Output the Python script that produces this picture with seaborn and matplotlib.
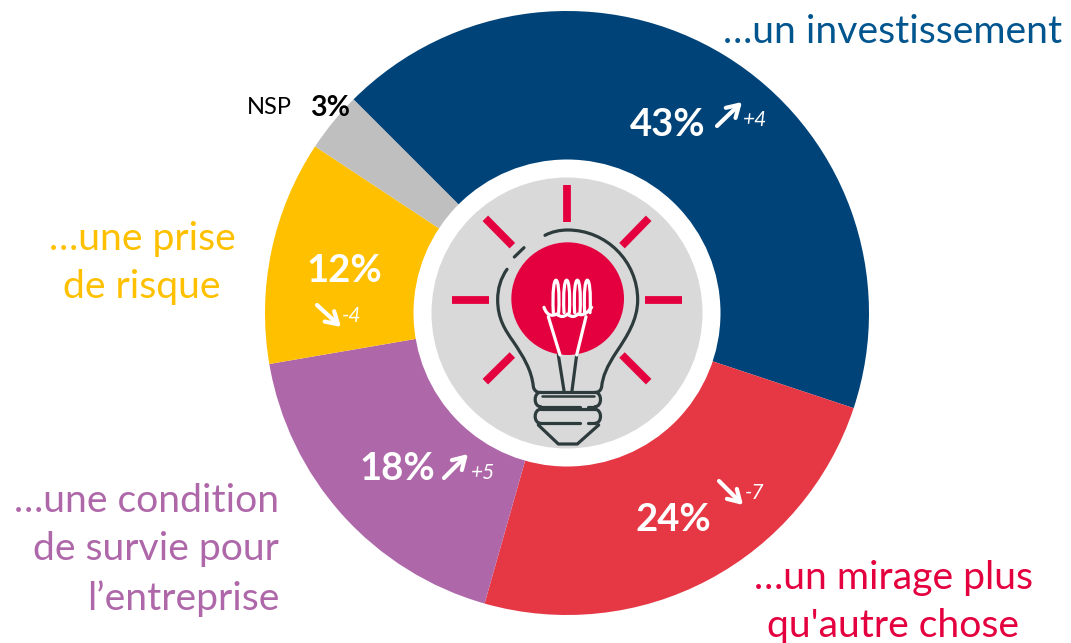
import matplotlib
matplotlib.use("Agg")
import matplotlib.pyplot as plt
import seaborn as sns
from matplotlib.patches import Circle, PathPatch
from matplotlib.path import Path

segments = ["…un investissement", "…un mirage plus\nqu'autre chose", "…une condition\nde survie pour\nl’entreprise", "…une prise\nde risque", "NSP"]
values = [43, 24, 18, 12, 3]
slice_shares = [42.6, 24.3, 17.9, 12.0, 3.2]
deltas = ["+4", "-7", "+5", "-4", ""]
slice_colors = ["#004379", "#E53744", "#AE68A9", "#FFC000", "#BFBFBF"]
text_colors = ["#00558F", "#E4003F", "#AE68A9", "#FFC000", "#000000"]

sns.set_theme(style="white")
plt.rcParams["font.family"] = ["Lato", "DejaVu Sans"]

W, H = 1071, 643
fig = plt.figure(figsize=(W / 100, H / 100), dpi=100)
ax = fig.add_axes([0, 0, 1, 1])

Y = lambda y: H - y
CX, CY, R = 567, 313, 302

ax.pie(slice_shares, colors=slice_colors, startangle=90 + 45, counterclock=False,
       center=(CX, Y(CY)), radius=R, frame=True, wedgeprops=dict(linewidth=0))
ax.set_xlim(0, W)
ax.set_ylim(0, H)
ax.set_aspect("equal")
ax.axis("off")

ax.add_patch(Circle((CX, Y(CY)), 153.5, fc="white", ec="none", zorder=3))
ax.add_patch(Circle((CX, Y(CY)), 135.5, fc="#D9D9D9", ec="none", zorder=4))


def Z(zx, zy):
    return (410 + zx / 3, Y(160 + zy / 3))


PINK = "#E4003F"
DARK = "#2E3B3D"
rays = [((471, 76), (471, 187)), ((127, 420), (237, 420)), ((706, 420), (816, 420)),
        ((226, 175), (307, 257)), ((716, 175), (636, 257)),
        ((226, 665), (307, 585)), ((716, 665), (636, 585))]
for a, b in rays:
    (x0, y0), (x1, y1) = Z(*a), Z(*b)
    ax.plot([x0, x1], [y0, y1], color=PINK, lw=5.6, solid_capstyle="butt", zorder=5)

ax.add_patch(Circle(Z(473, 416), 169 / 3, fc=PINK, ec="none", zorder=5))


def curve(points, color=DARK, lw=2.3):
    verts = [Z(*p) for p in points]
    codes = [Path.MOVETO] + [Path.CURVE4] * (len(points) - 1)
    ax.add_patch(PathPatch(Path(verts, codes), fc="none", ec=color, lw=lw,
                           capstyle="round", joinstyle="round", zorder=6))


def poly(points, color=DARK, lw=2.3):
    verts = [Z(*p) for p in points]
    codes = [Path.MOVETO] + [Path.LINETO] * (len(points) - 1)
    ax.add_patch(PathPatch(Path(verts, codes), fc="none", ec=color, lw=lw,
                           capstyle="round", joinstyle="round", zorder=6))


# glass
curve([(405, 226), (425, 215), (450, 210), (473, 210),
       (589, 210), (683, 304), (683, 420),
       (683, 480), (650, 530), (620, 575),
       (590, 620), (578, 650), (575, 680),
       (573, 690), (568, 695), (560, 697)])
curve([(291, 328), (272, 355), (263, 385), (263, 420),
       (263, 475), (285, 510), (310, 545),
       (340, 590), (365, 630), (370, 680),
       (372, 690), (378, 695), (385, 697)])
poly([(313, 291), (342, 263)])
# stems
poly([(445, 585), (462, 692)])
poly([(500, 585), (486, 692)])
# filament
curve([(402, 442), (412, 470), (428, 468), (440, 462), (452, 472), (462, 472), (472, 462), (484, 472), (494, 472), (504, 462),
       (520, 470), (535, 455), (545, 442)], color="white")
for zx in (438, 470, 502, 532):
    curve([(zx - 8, 458), (zx - 15, 328), (zx + 15, 328), (zx + 8, 458)], color="white")
poly([(415, 470), (450, 585)], color="white")
poly([(528, 470), (500, 585)], color="white")
# screw base
for top, bot in ((697, 740), (748, 790)):
    poly([(392, top), (555, top)])
    curve([(555, top), (577, top), (577, bot), (555, bot)])
    poly([(555, bot), (535, bot)])
    poly([(510, bot), (392, bot)])
    curve([(392, bot), (370, bot), (370, top), (392, top)])
poly([(395, 708), (552, 708)], lw=1.8)
poly([(385, 795), (445, 852), (502, 852), (566, 795)])

# category labels
FS = 28.2
LS = 1.42
ax.text(1062, Y(32), segments[0], ha="right", va="center", color=text_colors[0], fontsize=FS)
ax.text(893, Y(602), segments[1], ha="center", va="center", color=text_colors[1], fontsize=FS, linespacing=LS, multialignment="center")
ax.text(279, Y(550), segments[2], ha="right", va="center", color=text_colors[2], fontsize=FS, linespacing=LS, multialignment="right")
ax.text(142, Y(263), segments[3], ha="center", va="center", color=text_colors[3], fontsize=FS, linespacing=LS, multialignment="center")
ax.text(247, Y(108), segments[4], ha="left", va="center", color=text_colors[4], fontsize=17)
ax.text(310, Y(108), f"{values[4]}%", ha="left", va="center", color=text_colors[4], fontsize=20.5, fontweight="bold")

# percentages
pct_pos = [(668, 125), (673, 520), (397, 469), (344, 271)]
for v, (x, y) in zip(values, pct_pos):
    ax.text(x, Y(y), f"{v}%", ha="center", va="center", color="white", fontsize=27.5, fontweight="bold", zorder=7)

# change indicators
arrows = [((717, 126), (742, 102)), ((719, 481), (743, 505)), ((444, 478), (468, 454)), ((317, 305), (341, 327))]
delta_pos = [(755, 120), (755, 493), (483, 473), (352, 316)]
for (a, b), d, (x, y) in zip(arrows, deltas, delta_pos):
    ax.annotate("", xy=(b[0], Y(b[1])), xytext=(a[0], Y(a[1])), zorder=7,
                arrowprops=dict(arrowstyle="->,head_length=0.7,head_width=0.42", color="white", lw=3,
                                shrinkA=0, shrinkB=0))
    ax.text(x, Y(y), d, ha="center", va="center", color="white", fontsize=15, fontstyle="italic", zorder=7)

fig.savefig("out.png", dpi=100, facecolor="white")
